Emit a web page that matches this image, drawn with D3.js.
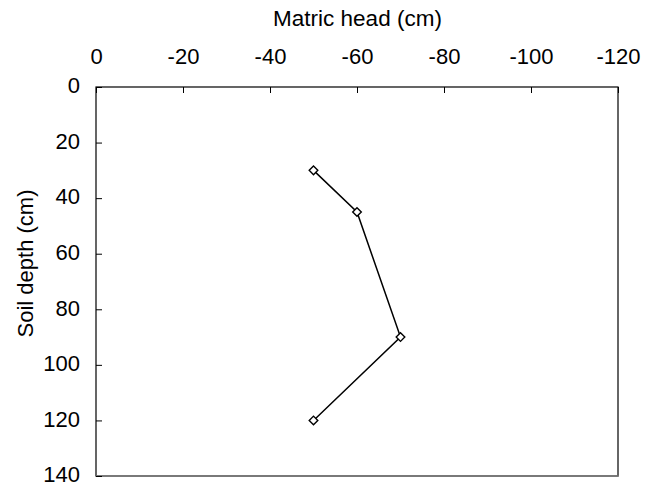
<!DOCTYPE html>
<html>
<head>
<meta charset="utf-8">
<script src="https://cdn.jsdelivr.net/npm/d3@7/dist/d3.min.js"></script>
<style>
  html, body { margin: 0; padding: 0; background: #fff; }
  svg { display: block; }
  text { font-family: "Liberation Sans", Arial, sans-serif; fill: #000; }
</style>
</head>
<body>
<svg id="chart" width="645" height="487"></svg>
<script>
// Data
const matricHead = [-50, -60, -70, -50];
const soilDepth = [30, 45, 90, 120];
const xTicks = [0, -20, -40, -60, -80, -100, -120];
const yTicks = [0, 20, 40, 60, 80, 100, 120, 140];
const xTitle = "Matric head (cm)";
const yTitle = "Soil depth (cm)";

const svg = d3.select("#chart");
const pL = 96, pR = 618, pT = 87, pB = 476;
const fontSize = 22;

const x = d3.scaleLinear().domain([0, -120]).range([pL, pR]);
const y = d3.scaleLinear().domain([0, 140]).range([pT, pB]);

// plot frame
svg.append("rect")
  .attr("x", pL).attr("y", pT)
  .attr("width", pR - pL).attr("height", pB - pT)
  .attr("fill", "#fff").attr("stroke", "#000").attr("stroke-width", 1.2);
svg.append("line")
  .attr("x1", pL).attr("x2", pR + 0.6)
  .attr("y1", pB).attr("y2", pB)
  .attr("stroke", "#808080").attr("stroke-width", 1.5);

// x axis (top, ticks inward)
const xAxis = d3.axisTop(x).tickValues(xTicks)
  .tickSizeInner(-6).tickSizeOuter(0).tickPadding(23);
const gx = svg.append("g").attr("transform", `translate(0,${pT})`).call(xAxis);
gx.select(".domain").remove();
gx.selectAll(".tick line").attr("stroke", "#000");
gx.selectAll(".tick text").attr("font-size", fontSize)
  .attr("font-family", '"Liberation Sans", Arial, sans-serif')
  .text(d => d === 0 ? "0" : "-" + Math.abs(d));

// y axis (left, ticks inward)
const yAxis = d3.axisLeft(y).tickValues(yTicks).tickFormat(d3.format("d"))
  .tickSizeInner(-6).tickSizeOuter(0).tickPadding(16);
const gy = svg.append("g").attr("transform", `translate(${pL},0)`).call(yAxis);
gy.select(".domain").remove();
gy.selectAll(".tick line").attr("stroke", "#000");
gy.selectAll(".tick text").attr("font-size", fontSize)
  .attr("dy", "0.26em")
  .attr("font-family", '"Liberation Sans", Arial, sans-serif');

// titles
svg.append("text")
  .attr("x", (pL + pR) / 2 + 0.5).attr("y", 26)
  .attr("text-anchor", "middle").attr("font-size", 22.5)
  .text(xTitle);
svg.append("text")
  .attr("transform", `translate(33,${(pT + pB) / 2 - 18}) rotate(-90)`)
  .attr("text-anchor", "middle").attr("font-size", fontSize)
  .text(yTitle);

// series
const pts = matricHead.map((v, i) => ({ h: v, d: soilDepth[i] }));
const line = d3.line().x(p => x(p.h)).y(p => y(p.d));
svg.append("path").datum(pts)
  .attr("d", line).attr("fill", "none")
  .attr("stroke", "#000").attr("stroke-width", 1.5);

const r = 4.3;
svg.selectAll("path.marker").data(pts).enter().append("path")
  .attr("class", "marker")
  .attr("d", p => {
    const cx = x(p.h), cy = y(p.d);
    return `M${cx},${cy - r}L${cx + r},${cy}L${cx},${cy + r}L${cx - r},${cy}Z`;
  })
  .attr("fill", "#fff").attr("stroke", "#000").attr("stroke-width", 1.4);
</script>
</body>
</html>
